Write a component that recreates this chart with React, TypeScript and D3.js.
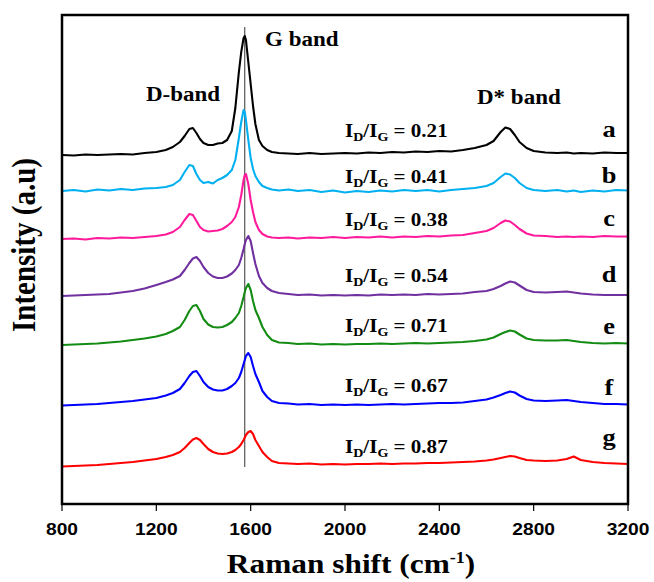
import React, { useEffect, useRef } from "react";
import * as d3 from "d3";

// Raman shift grid (cm-1), denser around the D and G bands
const shifts = [
  800, 850, 900, 950, 1000, 1050, 1100, 1150, 1200,
  1240, 1270, 1300, 1320, 1340, 1355, 1370, 1385, 1400,
  1420, 1440, 1460, 1480, 1500, 1520, 1535, 1550, 1560, 1570, 1575, 1580, 1590, 1600, 1610, 1620, 1635, 1650, 1670, 1690,
  1720, 1760, 1800, 1850, 1900, 1950, 2000, 2050, 2100, 2150, 2200, 2250, 2300, 2350, 2400, 2450, 2500, 2550, 2600,
  2630, 2660, 2680, 2700, 2720, 2740, 2770, 2800, 2850, 2900, 2940, 2970, 3000, 3050, 3100, 3150, 3200
];

// stacked intensities (a.u.), one array per sample
const specA = [
  349, 348.5, 349.5, 349, 349.5, 350, 349.5, 351, 352,
  354, 357, 362, 368, 375, 376, 371, 365, 361,
  359, 359, 360.5, 361, 364, 373, 396, 432, 452, 466, 468, 464, 442, 420, 398, 380, 364, 358, 354, 352,
  351, 350.5, 350, 351, 350, 350.5, 351, 350.5, 351.5, 351, 352, 351.5, 352.5, 352, 353, 352.5, 354, 356, 359,
  363, 372, 376.5, 375, 369, 362, 356, 353, 351.5, 351, 351.5, 350.5, 351, 350.5, 351.5, 351, 351
];
const specB = [
  313, 314, 312.5, 314.5, 313.5, 315, 314, 315.5, 316,
  317, 319, 324, 332, 339, 338, 330, 324, 321,
  322, 320.5, 324, 326, 329, 334, 344, 366, 382, 394, 392, 384, 364, 346, 335, 328, 322, 318, 316, 314.5,
  313.5, 314.5, 313, 314, 312, 313.5, 311.5, 313, 312, 313.5, 312.5, 314, 313, 314, 312.5, 314, 315, 316, 318,
  321, 327, 330.5, 329.5, 326, 321, 316, 314, 313, 314, 312.5, 313.5, 312, 313.5, 312.5, 314, 313.5
];
const specC = [
  265, 265.5, 264.5, 266, 265.5, 266.5, 266, 267, 268,
  269.5, 272, 277, 284, 290, 289, 283, 277, 274,
  272.5, 273, 273.5, 275, 278, 282, 287, 297, 309, 324, 329, 330, 320, 304, 292, 282, 274, 270, 267.5, 266.5,
  266, 266.5, 265.5, 266.5, 266, 267, 266, 267, 266.5, 267.5, 266.5, 267.5, 267, 268, 267.5, 268.5, 269, 271, 273,
  276, 281, 283.5, 282.5, 279, 275, 270.5, 268.5, 268, 267, 267.5, 267, 267.5, 267, 268, 267.5, 267.5
];
const specD = [
  208, 208.5, 209, 209.5, 210, 211.5, 213, 215.5, 219,
  222, 224.5, 228, 234, 241, 245.5, 247, 243, 237,
  231, 227.5, 226, 226, 227.5, 230.5, 234, 239, 246, 255, 260, 264, 268, 263, 251, 240, 228, 221, 216, 213,
  211, 210, 209, 209.5, 208.5, 209, 208.5, 209, 208.5, 209.5, 209, 209.5, 209, 210, 209.5, 210, 210.5, 212, 213,
  215, 218, 220.5, 222.5, 221.5, 218.5, 214, 212, 211.5, 212, 212.5, 211.5, 210.5, 209.5, 209, 209, 209
];
const specE = [
  159, 159.5, 160, 160.5, 161.5, 162.5, 164, 165.5, 167.5,
  170, 173, 177, 184, 193, 198, 199, 193, 185,
  179.5, 177, 176.5, 177, 179, 182, 186, 191, 198, 207, 212, 216, 220, 214, 203, 194, 186, 177, 169, 164,
  161.5, 161, 160, 160.5, 159.5, 160, 159.5, 160, 160, 160.5, 160, 160.5, 161, 160.5, 161, 161.5, 162, 163, 164.5,
  166.5, 170, 172, 173.5, 172.5, 169.5, 165.5, 164, 163.5, 163.5, 164, 163, 162, 161, 160.5, 161, 160.5
];
const specF = [
  98.5, 99, 99.5, 100, 101, 102, 103, 104.5, 106,
  108.5, 111, 115, 121, 128, 132, 133, 128, 122,
  117, 114.5, 113.5, 113.5, 115, 118, 121, 126, 132, 140, 144, 148, 151, 147, 138, 130, 122, 113, 107, 103,
  101, 100.5, 99.5, 100, 99, 99.5, 99, 99.5, 99, 99.5, 100, 99.5, 100, 100.5, 101, 101, 101.5, 103, 104.5,
  106.5, 109, 111, 112.5, 111.5, 108.5, 105, 103.5, 103, 103.5, 104, 103, 102, 101, 100, 100, 99.5
];
const specG = [
  37.5, 38, 38.5, 39, 40, 41, 42, 43.5, 45,
  47, 49, 52, 56, 61, 64.5, 66, 64, 60,
  55, 52, 50.5, 50, 50.5, 52, 54, 57, 60, 64, 66.5, 69, 72, 73, 70, 64, 58, 52, 47, 43,
  41, 40.5, 40, 40.5, 39.5, 40, 39.5, 40, 40, 40.5, 40, 40.5, 40.5, 41, 41, 41.5, 42, 42.5, 43.5,
  44.5, 46, 47, 48, 47.5, 46, 44, 43.5, 43, 43.5, 45, 47.5, 44, 42, 41, 40.5, 40
];

const samples = ["a", "b", "c", "d", "e", "f", "g"];
const ratios = ["0.21", "0.41", "0.38", "0.54", "0.71", "0.67", "0.87"];
const xTickValues = [800, 1200, 1600, 2000, 2400, 2800, 3200];
const gBandShift = 1575;

const colors = ["#000000", "#00b0f0", "#ff1a9c", "#7030a0", "#148c14", "#0000ff", "#ff0000"];

// layout
const W = 654;
const H = 582;
const plot = { left: 62, right: 628, top: 15, bottom: 504 };
const ratioY = [136.7, 182.7, 226, 281.7, 331.7, 391.7, 453.3];
const letterY = [136.7, 182.7, 226, 281.7, 334, 395, 445];
const SERIF = "'Liberation Serif', 'Times New Roman', serif";
const SANS = "'Liberation Sans', Arial, sans-serif";

function RamanChart() {
  const svgRef = useRef<SVGSVGElement>(null);

  useEffect(() => {
    const svg = d3.select(svgRef.current);
    svg.selectAll("*").remove();

    const x = d3.scaleLinear().domain([800, 3200]).range([plot.left, plot.right]);
    const y = d3.scaleLinear().domain([0, 489]).range([plot.bottom, plot.top]);

    const spectra = [specA, specB, specC, specD, specE, specF, specG];

    // G band marker
    svg.append("line")
      .attr("x1", x(gBandShift)).attr("x2", x(gBandShift))
      .attr("y1", 27).attr("y2", 467)
      .attr("stroke", "#333").attr("stroke-width", 1);

    const line = d3.line<number>()
      .x((_, i) => x(shifts[i]))
      .y(d => y(d));

    svg.selectAll("path.spec")
      .data(spectra)
      .join("path")
      .attr("class", "spec")
      .attr("d", d => line(d))
      .attr("fill", "none")
      .attr("stroke", (_, i) => colors[i])
      .attr("stroke-width", 2.1)
      .attr("stroke-linejoin", "round");

    // frame
    svg.append("rect")
      .attr("x", plot.left).attr("y", plot.top)
      .attr("width", plot.right - plot.left)
      .attr("height", plot.bottom - plot.top)
      .attr("fill", "none").attr("stroke", "#000").attr("stroke-width", 2.5);

    // x ticks
    svg.selectAll("line.xtick")
      .data(xTickValues)
      .join("line")
      .attr("class", "xtick")
      .attr("x1", d => x(d)).attr("x2", d => x(d))
      .attr("y1", plot.bottom).attr("y2", plot.bottom + 7)
      .attr("stroke", "#000").attr("stroke-width", 1.2);

    svg.selectAll("g.xlab")
      .data(xTickValues)
      .join("g")
      .attr("class", "xlab")
      .attr("transform", d => `translate(${x(d)},535) scale(1.2,1)`)
      .append("text")
      .attr("text-anchor", "middle")
      .attr("font-family", SANS)
      .attr("font-weight", "bold")
      .attr("font-size", 16)
      .text(d => d);

    // axis titles
    const xt = svg.append("g")
      .attr("transform", "translate(351,573) scale(1.12,1)")
      .append("text")
      .attr("text-anchor", "middle")
      .attr("font-family", SERIF).attr("font-weight", "bold").attr("font-size", 28);
    xt.append("tspan").text("Raman shift (cm");
    xt.append("tspan").attr("font-size", 16).attr("dy", -10).text("-1");
    xt.append("tspan").attr("dy", 10).text(")");

    svg.append("g")
      .attr("transform", "translate(35,245) scale(1.14,1) rotate(-90)")
      .append("text")
      .attr("text-anchor", "middle")
      .attr("font-family", SERIF).attr("font-weight", "bold").attr("font-size", 29)
      .text("Intensity (a.u)");

    // band names
    const bandText = (tx: number, ty: number, s: string) =>
      svg.append("g")
        .attr("transform", `translate(${tx},${ty}) scale(1.15,1)`)
        .append("text")
        .attr("font-family", SERIF).attr("font-weight", "bold").attr("font-size", 20)
        .text(s);
    bandText(265, 46, "G band");
    bandText(146, 100.7, "D-band");
    bandText(477, 104.3, "D* band");

    // ID/IG ratios and sample letters
    ratios.forEach((r, i) => {
      const t = svg.append("g")
        .attr("transform", `translate(${x(2000)},${ratioY[i]}) scale(1.17,1)`)
        .append("text")
        .attr("font-family", SERIF).attr("font-weight", "bold").attr("font-size", 18);
      t.append("tspan").text("I");
      t.append("tspan").attr("font-size", 12).attr("dy", 4).text("D");
      t.append("tspan").attr("dy", -4).text("/I");
      t.append("tspan").attr("font-size", 12).attr("dy", 4).text("G");
      t.append("tspan").attr("dy", -4).text(` = ${r}`);

      svg.append("g")
        .attr("transform", `translate(609,${letterY[i]}) scale(1.1,1)`)
        .append("text")
        .attr("text-anchor", "middle")
        .attr("font-family", SERIF).attr("font-weight", "bold").attr("font-size", 24)
        .text(samples[i]);
    });
  }, []);

  return (
    <svg
      ref={svgRef}
      width={W}
      height={H}
      style={{ position: "absolute", left: 0, top: 0, background: "#fff" }}
    />
  );
}

export default function App() {
  return <RamanChart />;
}
